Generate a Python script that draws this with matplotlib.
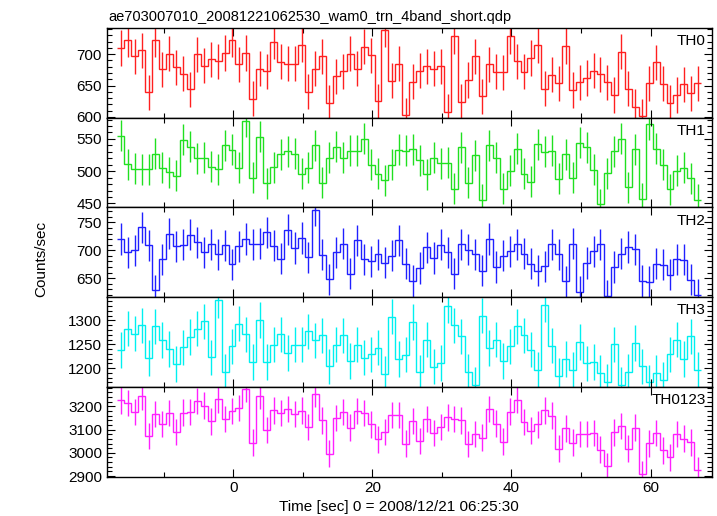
import numpy as np
import matplotlib
matplotlib.use("Agg")
import matplotlib.pyplot as plt
from matplotlib.ticker import MultipleLocator

plt.rcParams['font.family'] = ['Liberation Sans', 'DejaVu Sans']

# Time bins (1 s), t = 0 at 2008/12/21 06:25:30
t_start = -16.7
bin_width = 1.0
n_bins = 84

th0 = [710, 723, 697, 706, 639, 723, 676, 701, 679, 669,
       644, 700, 682, 692, 689, 702, 723, 684, 702, 629,
       677, 673, 720, 688, 685, 685, 715, 640, 677, 697,
       623, 665, 673, 701, 677, 712, 698, 625, 739, 658,
       685, 603, 656, 674, 681, 677, 681, 608, 729, 624,
       659, 697, 633, 684, 672, 671, 729, 689, 672, 694,
       714, 645, 667, 654, 713, 643, 655, 662, 674, 668,
       655, 635, 704, 645, 616, 601, 654, 687, 653, 623,
       635, 652, 638, 654]

th1 = [555, 511, 504, 503, 503, 527, 505, 498, 493, 549,
       538, 520, 521, 507, 503, 540, 533, 505, 577, 490,
       553, 481, 506, 526, 531, 527, 496, 505, 540, 482,
       521, 538, 521, 532, 532, 550, 510, 496, 486, 510,
       533, 532, 534, 517, 495, 521, 512, 513, 473, 537,
       482, 525, 456, 540, 521, 473, 501, 535, 496, 484,
       542, 530, 532, 488, 526, 490, 544, 537, 502, 449,
       497, 531, 550, 475, 534, 457, 573, 535, 510, 472,
       501, 505, 489, 456]

th2 = [720, 696, 700, 741, 709, 628, 684, 730, 707, 710,
       728, 714, 696, 711, 693, 709, 675, 707, 720, 711,
       712, 732, 708, 685, 737, 704, 722, 687, 772, 692,
       648, 696, 712, 658, 718, 684, 680, 693, 678, 690,
       718, 676, 645, 668, 705, 686, 710, 696, 658, 711,
       701, 693, 663, 720, 670, 690, 698, 711, 694, 676,
       663, 671, 711, 693, 644, 712, 625, 677, 698, 711,
       618, 670, 694, 706, 702, 645, 643, 676, 674, 656,
       684, 683, 647, 620]

th3 = [1238, 1283, 1272, 1290, 1221, 1288, 1259, 1240, 1209, 1244,
       1265, 1283, 1298, 1223, 1342, 1193, 1246, 1293, 1271, 1213,
       1301, 1213, 1249, 1271, 1232, 1249, 1249, 1277, 1258, 1269,
       1204, 1249, 1269, 1215, 1249, 1222, 1229, 1243, 1188, 1308,
       1219, 1228, 1297, 1191, 1260, 1203, 1211, 1331, 1290, 1267,
       1192, 1165, 1310, 1242, 1260, 1215, 1246, 1288, 1269, 1239,
       1197, 1333, 1247, 1184, 1219, 1196, 1255, 1210, 1213, 1190,
       1171, 1250, 1165, 1192, 1253, 1204, 1170, 1190, 1176, 1229,
       1260, 1219, 1267, 1196]

th0123 = [3226, 3214, 3176, 3243, 3073, 3167, 3125, 3172, 3089, 3173,
          3176, 3223, 3203, 3135, 3230, 3146, 3180, 3193, 3275, 3044,
          3245, 3099, 3183, 3172, 3189, 3167, 3182, 3112, 3253, 3140,
          2997, 3150, 3176, 3108, 3180, 3172, 3122, 3058, 3090, 3162,
          3163, 3039, 3137, 3051, 3146, 3086, 3112, 3152, 3146, 3140,
          3038, 3082, 3065, 3189, 3126, 3048, 3177, 3227, 3132, 3095,
          3122, 3183, 3160, 3018, 3105, 3044, 3082, 3082, 3086, 3014,
          2943, 3088, 3115, 3018, 3108, 2907, 3041, 3086, 3011, 2980,
          3082, 3061, 3045, 2926]

names = ["TH0", "TH1", "TH2", "TH3", "TH0123"]
series = [th0, th1, th2, th3, th0123]
errors = [28, 24, 28, 37, 57]
colors = ["#ff2020", "#20e020", "#2020ff", "#00f0f0", "#ff20ff"]
ylims = [(599, 742), (444, 583), (616, 777), (1161, 1349), (2898, 3284)]
ymajor = [50, 50, 50, 50, 100]
yminor = [10, 10, 10, 10, 20]

edges = t_start + bin_width * np.arange(n_bins + 1)
centers = 0.5 * (edges[:-1] + edges[1:])

fig = plt.figure(figsize=(7.17, 5.16), dpi=100)
gs = fig.add_gridspec(5, 1, left=0.149, right=0.9926, top=0.946, bottom=0.0765,
                      hspace=0)

for k in range(5):
    ax = fig.add_subplot(gs[k])
    vals = np.array(series[k], dtype=float)
    ax.stairs(vals, edges, color=colors[k], lw=1.0, baseline=None)
    ax.errorbar(centers, vals, yerr=errors[k], fmt='none', ecolor=colors[k],
                elinewidth=1.0, capsize=0)
    ax.set_xlim(-18.2, 68.8)
    ax.set_ylim(*ylims[k])
    ax.yaxis.set_major_locator(MultipleLocator(ymajor[k]))
    ax.yaxis.set_minor_locator(MultipleLocator(yminor[k]))
    ax.xaxis.set_major_locator(MultipleLocator(20))
    ax.xaxis.set_minor_locator(MultipleLocator(10))
    ax.tick_params(which='both', direction='in', top=True, right=True,
                   labelsize=11, width=0.8)
    ax.tick_params(which='major', length=6)
    ax.tick_params(which='minor', length=3.5)
    if k < 4:
        ax.tick_params(labelbottom=False)
    for sp in ax.spines.values():
        sp.set_linewidth(1.0)
    ax.text(0.99, 0.93, names[k], transform=ax.transAxes, ha='right', va='top',
            fontsize=11)

fig.text(108 / 717, 1 - 20.5 / 516, "ae703007010_20081221062530_wam0_trn_4band_short.qdp",
         fontsize=10.5, ha='left', va='baseline')
fig.text(41 / 717, 1 - 259 / 516, "Counts/sec", rotation=90, fontsize=11,
         ha='center', va='center')
fig.text(399 / 717, 1 - 507.5 / 516, "Time [sec] 0 = 2008/12/21 06:25:30",
         fontsize=11, ha='center', va='center')

fig.savefig("out.png", dpi=100)
